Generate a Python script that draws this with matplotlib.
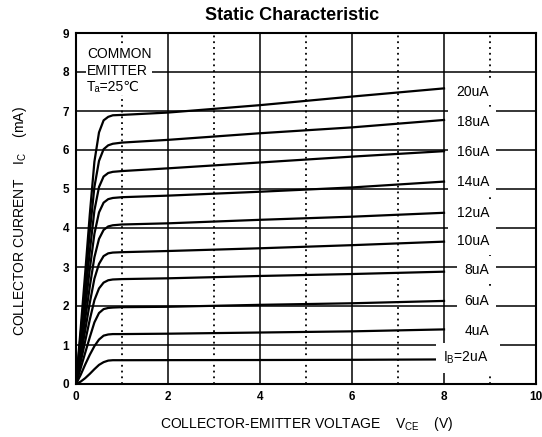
import matplotlib
matplotlib.use("Agg")
import matplotlib.pyplot as plt

plt.rcParams['font.family'] = ['Liberation Sans', 'DejaVu Sans']

# ---- data ----
vce = [0, 0.1, 0.2, 0.3, 0.4, 0.5, 0.6, 0.7, 0.8, 1.0, 2, 4, 6, 8]
ic_2uA = [0, 0.06, 0.15, 0.26, 0.38, 0.49, 0.56, 0.60, 0.61, 0.61, 0.612, 0.615, 0.62, 0.63]
ic_4uA = [0, 0.23, 0.50, 0.75, 0.97, 1.14, 1.24, 1.27, 1.28, 1.28, 1.29, 1.32, 1.35, 1.40]
ic_6uA = [0, 0.40, 0.80, 1.20, 1.58, 1.82, 1.92, 1.95, 1.96, 1.97, 1.98, 2.03, 2.07, 2.13]
ic_8uA = [0, 0.55, 1.10, 1.65, 2.15, 2.45, 2.60, 2.66, 2.68, 2.69, 2.71, 2.77, 2.82, 2.88]
ic_10uA = [0, 0.68, 1.38, 2.08, 2.70, 3.08, 3.28, 3.35, 3.37, 3.38, 3.41, 3.48, 3.56, 3.65]
ic_12uA = [0, 0.82, 1.66, 2.50, 3.25, 3.72, 3.95, 4.04, 4.07, 4.09, 4.12, 4.21, 4.29, 4.39]
ic_14uA = [0, 0.96, 1.95, 2.95, 3.85, 4.40, 4.65, 4.74, 4.77, 4.79, 4.83, 4.93, 5.04, 5.19]
ic_16uA = [0, 1.10, 2.25, 3.40, 4.45, 5.05, 5.32, 5.41, 5.44, 5.46, 5.53, 5.68, 5.83, 5.97]
ic_18uA = [0, 1.25, 2.55, 3.90, 5.05, 5.72, 6.02, 6.12, 6.16, 6.19, 6.26, 6.43, 6.58, 6.77]
ic_20uA = [0, 1.40, 2.85, 4.35, 5.70, 6.45, 6.76, 6.85, 6.89, 6.90, 6.96, 7.15, 7.37, 7.58]
curves = [ic_2uA, ic_4uA, ic_6uA, ic_8uA, ic_10uA, ic_12uA, ic_14uA, ic_16uA, ic_18uA, ic_20uA]
curve_labels = [r"I$_{\mathregular{B}}$=2uA", "4uA", "6uA", "8uA", "10uA",
                "12uA", "14uA", "16uA", "18uA", "20uA"]
label_y = [0.67, 1.36, 2.13, 2.92, 3.67, 4.38, 5.18, 5.95, 6.72, 7.50]
x_ticks = [0, 2, 4, 6, 8, 10]
y_ticks = [0, 1, 2, 3, 4, 5, 6, 7, 8, 9]

# ---- figure ----
W, H = 542, 437
fig = plt.figure(figsize=(W / 100, H / 100), dpi=100)
ax = fig.add_axes([76 / W, 1 - 384 / H, 460 / W, 351 / H])
ax.set_xlim(0, 10)
ax.set_ylim(0, 9)

# vertical grid
for xv in [2, 4, 6, 8]:
    ax.axvline(xv, color='black', lw=1.1, zorder=1)
for xv in [1, 3, 5, 7, 9]:
    ax.axvline(xv, color='black', lw=1.3, ls=(0, (1, 2.2)), zorder=1)

# horizontal grid with gaps near the right-hand labels
gaps = {1: (8.09, 9.22), 2: (8.35, 9.04), 3: (8.35, 8.98), 4: (8.09, 9.11),
        5: (8.09, 9.11), 6: (8.09, 9.11), 7: (8.09, 9.07)}
for yv in range(1, 9):
    if yv in gaps:
        g0, g1 = gaps[yv]
        ax.hlines(yv, 0, g0, color='black', lw=1.1, zorder=1)
        ax.hlines(yv, g1, 10, color='black', lw=1.1, zorder=1)
    else:
        ax.hlines(yv, 0, 10, color='black', lw=1.1, zorder=1)

for ic in curves:
    ax.plot(vce, ic, color='black', lw=1.6, solid_joinstyle='round', zorder=3)

for lab, yl in zip(curve_labels, label_y):
    ax.text(8.98, yl, lab, ha='right', va='center', fontsize=10, zorder=4,
            bbox=dict(facecolor='white', edgecolor='none', boxstyle='square,pad=0.5'))

ax.text(0.24, 8.03, "COMMON\nEMITTER\nT\u2090=25\u2103", ha='left', va='center',
        fontsize=10, linespacing=1.22, zorder=4,
        bbox=dict(facecolor='white', edgecolor='none', boxstyle='square,pad=0.05'))

for s in ax.spines.values():
    s.set_linewidth(1.5)
ax.set_xticks(x_ticks)
ax.set_yticks(y_ticks)
ax.tick_params(length=0, pad=5, labelsize=8.5)
for t in ax.get_xticklabels() + ax.get_yticklabels():
    t.set_fontweight('bold')

fig.text(292 / W, 1 - 16 / H, "Static Characteristic", ha='center', va='center',
         fontsize=13, fontweight='bold')
fig.text(307 / W, 1 - 424 / H, r"COLLECTOR-EMITTER VOLTAGE    V$_{\mathregular{CE}}$    (V)",
         ha='center', va='center', fontsize=10)
fig.text(20 / W, 1 - 221 / H, r"COLLECTOR CURRENT    I$_{\mathregular{C}}$    (mA)",
         ha='center', va='center', fontsize=10, rotation=90)

fig.savefig("out.png", dpi=100)
